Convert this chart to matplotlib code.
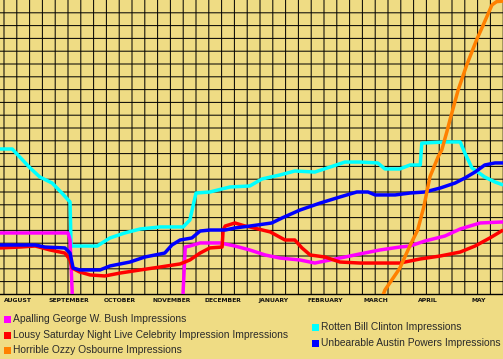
import matplotlib
matplotlib.use("Agg")
import matplotlib.pyplot as plt
from matplotlib.patches import Rectangle

# ---- data (x in months since Aug 1, y in grid units) ----
months = ["AUGUST", "SEPTEMBER", "OCTOBER", "NOVEMBER", "DECEMBER",
          "JANUARY", "FEBRUARY", "MARCH", "APRIL", "MAY"]

bush_x = [-0.08, 1.25, 1.29, 1.33, 1.36, 3.47, 3.50, 3.54, 3.63, 3.83, 4.22, 4.51, 4.80,
          5.10, 5.39, 5.78, 6.07, 6.27, 6.66, 6.95, 7.34, 7.73, 7.93, 8.22, 8.61,
          8.91, 9.10, 9.30, 9.75]
bush_y = [4.80, 4.80, 4.25, 0.34, -3.0, -3.0, 0.34, 3.70, 3.78, 4.02, 4.02, 3.78, 3.47,
          3.08, 2.84, 2.69, 2.45, 2.61, 2.92, 3.16, 3.47, 3.70, 3.78, 4.17, 4.56,
          5.11, 5.34, 5.58, 5.66]

snl_x = [-0.08, 0.31, 0.61, 0.90, 1.19, 1.29, 1.33, 1.48, 1.68, 1.97, 2.27, 2.66, 3.05,
         3.44, 3.63, 3.83, 4.02, 4.26, 4.28, 4.32, 4.51, 4.71, 4.80, 5.20, 5.49, 5.68,
         5.82, 5.98, 6.27, 6.56, 6.95, 7.73, 8.13, 8.52, 8.91, 9.20, 9.49, 9.75]
snl_y = [3.63, 3.70, 3.78, 3.47, 3.23, 2.69, 2.06, 1.75, 1.52, 1.44, 1.67, 1.91, 2.14,
         2.38, 2.69, 3.23, 3.63, 3.70, 5.03, 5.34, 5.58, 5.34, 5.27, 4.88, 4.25, 4.25,
         3.63, 3.08, 2.92, 2.53, 2.45, 2.45, 2.77, 3.00, 3.31, 3.78, 4.41, 5.03]

ozzy_x = [7.38, 7.44, 7.73, 7.92, 8.08, 8.20, 8.32, 8.48, 8.55, 8.65, 8.71, 8.87,
          9.04, 9.23, 9.36, 9.53, 9.62, 9.75]
ozzy_y = [-0.3, 0.34, 2.04, 3.73, 5.03, 6.85, 9.20, 10.76, 11.28, 12.71, 13.63, 15.97,
          17.95, 19.88, 21.05, 22.61, 22.87, 22.92]

clinton_x = [-0.08, 0.16, 0.51, 0.70, 0.94, 1.13, 1.29, 1.31, 1.39, 1.82, 2.07, 2.36,
             2.66, 3.05, 3.50, 3.63, 3.75, 4.02, 4.41, 4.80, 5.04, 5.39, 5.68, 6.07,
             6.37, 6.66, 6.95, 7.30, 7.44, 7.73, 7.93, 8.13, 8.16, 8.61, 8.91, 9.00,
             9.14, 9.39, 9.59, 9.75]
clinton_y = [11.36, 11.36, 9.88, 9.17, 8.70, 7.92, 7.22, 3.78, 3.78, 3.78, 4.41, 4.80,
             5.11, 5.27, 5.27, 5.81, 7.92, 8.00, 8.39, 8.47, 9.02, 9.33, 9.64, 9.56,
             9.95, 10.34, 10.34, 10.27, 9.80, 9.80, 10.11, 10.11, 11.82, 11.91, 11.91,
             11.05, 9.88, 9.17, 8.78, 8.55]

austin_x = [-0.08, 0.61, 0.80, 1.19, 1.29, 1.35, 1.48, 1.875, 2.07, 2.46, 2.75, 3.14,
            3.28, 3.44, 3.67, 3.83, 4.02, 4.32, 4.51, 4.80, 5.23, 5.43, 5.78, 6.17,
            6.56, 6.89, 7.11, 7.25, 7.64, 7.93, 8.22, 8.52, 8.81, 9.00, 9.20, 9.39,
            9.59, 9.75]
austin_y = [3.86, 3.86, 3.70, 3.63, 3.23, 2.06, 1.91, 1.91, 2.22, 2.53, 2.92, 3.23,
            3.86, 4.25, 4.41, 4.95, 5.03, 5.03, 5.19, 5.34, 5.58, 5.97, 6.59, 7.13,
            7.61, 8.00, 8.00, 7.77, 7.77, 7.92, 8.00, 8.31, 8.70, 9.09, 9.56, 10.11,
            10.27, 10.27]

labels = ["Apalling George W. Bush Impressions",
          "Lousy Saturday Night Live Celebrity Impression Impressions",
          "Horrible Ozzy Osbourne Impressions",
          "Rotten Bill Clinton Impressions",
          "Unbearable Austin Powers Impressions"]
colors = ["#FF00FF", "#FF0000", "#FF8000", "#00FFFF", "#0000FF"]

# ---- figure ----
W, H = 503, 359
bg = "#EFDC84"
fig = plt.figure(figsize=(W / 100, H / 100), dpi=100, facecolor=bg)
plot_h = 294.4
ax = fig.add_axes([0, (H - plot_h) / H, 1, plot_h / H], facecolor=bg)

x0 = -4 / 51.2
x1 = (W - 4) / 51.2
ax.set_xlim(x0, x1)
ax.set_ylim(0, 23)

for k in range(0, 40):
    ax.axvline(k * 0.25, color="black", lw=0.72, zorder=1, snap=False)
for k in range(1, 23):
    ax.axhline(k, color="black", lw=0.72, zorder=1, snap=False)

for sp in ["top", "left", "right"]:
    ax.spines[sp].set_visible(False)
ax.spines["bottom"].set_color("black")
ax.spines["bottom"].set_linewidth(1.0)
ax.set_xticks([])
ax.set_yticks([])

series = [
    (clinton_x, clinton_y, colors[3]),
    (bush_x, bush_y, colors[0]),
    (snl_x, snl_y, colors[1]),
    (austin_x, austin_y, colors[4]),
    (ozzy_x, ozzy_y, colors[2]),
]
for i, (xs, ys, c) in enumerate(series):
    ax.plot(xs, ys, color=c, lw=2.5, solid_joinstyle="round",
            solid_capstyle="butt", zorder=3 + i)

for m, name in enumerate(months):
    ax.text(m + 0.27, -0.3, name, ha="center", va="top", fontsize=4.4,
            fontweight="bold", family="DejaVu Sans", color="#111111",
            clip_on=False)

# ---- legend ----
left_col = [(0, 319), (1, 335), (2, 350)]
right_col = [(3, 327), (4, 343)]
for idx, py in left_col + right_col:
    sx = 4 if idx < 3 else 312
    fig.patches.append(Rectangle((sx / W, 1 - (py + 3.5) / H), 7 / W, 7 / H,
                                 transform=fig.transFigure, facecolor=colors[idx],
                                 edgecolor="none"))
    fig.text((sx + 9) / W, 1 - py / H, labels[idx], ha="left", va="center",
             fontsize=7.4, family="Liberation Sans", color="#2a2a2a")

fig.savefig("out.png", dpi=100, facecolor=bg)
